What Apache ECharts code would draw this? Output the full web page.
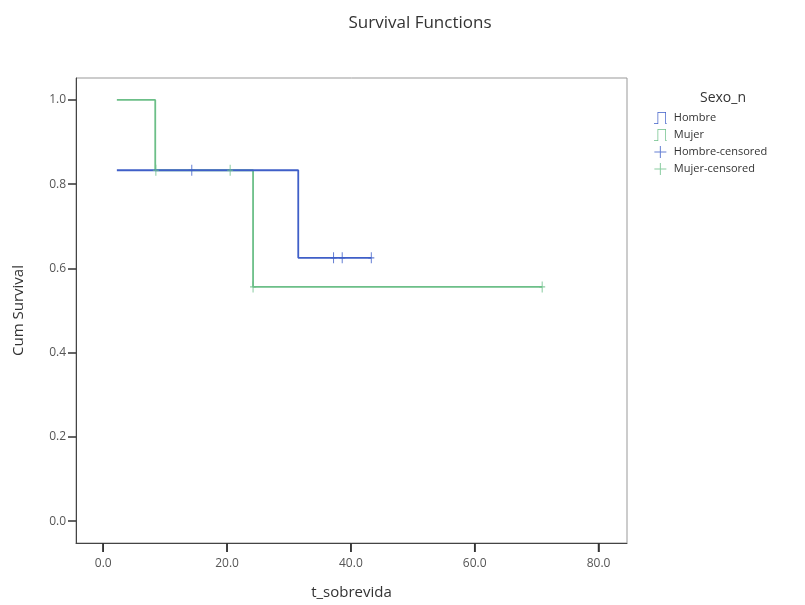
<!DOCTYPE html>
<html>
<head>
<meta charset="utf-8">
<script src="https://cdn.jsdelivr.net/npm/echarts@6/dist/echarts.min.js"></script>
<style>html,body{margin:0;padding:0;background:#fff}#c{width:805px;height:605px}</style>
</head>
<body>
<div id="c"></div>
<script>
// Data
var hombreSteps = [[2.2, 0.833], [31.5, 0.625], [43.3, 0.625]];
var mujerSteps = [[2.2, 1.0], [8.4, 0.833], [24.2, 0.556], [70.9, 0.556]];
var hombreCensored = [[14.3, 0.833], [37.2, 0.625], [38.6, 0.625], [43.3, 0.625]];
var mujerCensored = [[8.5, 0.833], [20.5, 0.833], [24.2, 0.556], [70.9, 0.556]];
var xTicks = [0, 20, 40, 60, 80];
var yTicks = [0, 0.2, 0.4, 0.6, 0.8, 1.0];
var seriesNames = ['Hombre', 'Mujer', 'Hombre-censored', 'Mujer-censored'];

var X_MIN = -4.4, X_MAX = 84.6, Y_MIN = -0.052, Y_MAX = 1.052;
var BLUE = '#3f5fc8', GREEN = '#6cbf88';
var plusPath = 'path://M5.5,0 L6.5,0 L6.5,5.5 L12,5.5 L12,6.5 L6.5,6.5 L6.5,12 L5.5,12 L5.5,6.5 L0,6.5 L0,5.5 L5.5,5.5 Z';
var stepPath = 'path://M0,18 L6,18 L6,2 L16,2 L16,18 L18,18 L18,17 L17,17 L17,1 L5,1 L5,17 L0,17 Z';
var censorSym = 'path://M0,4.5 L2.5,4.5 L2.5,0 L3.5,0 L3.5,4.5 L6,4.5 L6,5.5 L3.5,5.5 L3.5,10 L2.5,10 L2.5,5.5 L0,5.5 Z';

var chart = echarts.init(document.getElementById('c'), null, {renderer: 'canvas'});
chart.setOption({
  backgroundColor: '#fff',
  animation: false,
  title: [{
    text: 'Survival Functions', left: 415, top: 10, textAlign: 'center',
    textStyle: {fontFamily: 'Open Sans', fontSize: 17, fontWeight: 'normal', color: '#333'}
  }, {
    text: 'Sexo_n', left: 718, top: 86, textAlign: 'center',
    textStyle: {fontFamily: 'Open Sans', fontSize: 14, fontWeight: 'normal', color: '#333'}
  }],
  legend: {
    orient: 'vertical', left: 649, top: 107, itemGap: 5,
    itemWidth: 17, itemHeight: 12,
    textStyle: {fontFamily: 'Open Sans', fontSize: 11, color: '#333'},
    data: [
      {name: seriesNames[0], icon: stepPath, itemStyle: {color: BLUE}},
      {name: seriesNames[1], icon: stepPath, itemStyle: {color: GREEN}},
      {name: seriesNames[2], icon: plusPath, itemStyle: {color: BLUE}},
      {name: seriesNames[3], icon: plusPath, itemStyle: {color: GREEN}}
    ]
  },
  grid: {left: 76, top: 78, width: 551, height: 465, show: true, borderColor: '#999', borderWidth: 1,
    outerBoundsMode: 'none', containLabel: false},
  xAxis: {
    type: 'value', min: X_MIN, max: X_MAX,
    name: 't_sobrevida', nameLocation: 'middle', nameGap: 42,
    nameTextStyle: {fontFamily: 'Open Sans', fontSize: 15, color: '#333'},
    axisLine: {show: true, onZero: false, lineStyle: {color: '#444', width: 1}},
    axisTick: {show: true, length: 9, customValues: xTicks, lineStyle: {color: '#333', width: 1.5}},
    axisLabel: {customValues: xTicks, formatter: function (v) { return v.toFixed(1); },
      fontFamily: 'Open Sans', fontSize: 12, color: '#555', margin: 15},
    splitLine: {show: false}
  },
  yAxis: {
    type: 'value', min: Y_MIN, max: Y_MAX,
    name: 'Cum Survival', nameLocation: 'middle', nameGap: 50,
    nameTextStyle: {fontFamily: 'Open Sans', fontSize: 15, color: '#333'},
    axisLine: {show: true, onZero: false, lineStyle: {color: '#444', width: 1}},
    axisTick: {show: true, length: 8, customValues: yTicks, lineStyle: {color: '#333', width: 1.5}},
    axisLabel: {customValues: yTicks, formatter: function (v) { return v.toFixed(1); },
      fontFamily: 'Open Sans', fontSize: 12, color: '#555', margin: 10},
    splitLine: {show: false}
  },
  series: [
    {name: seriesNames[0], type: 'line', step: 'end', data: hombreSteps, showSymbol: false, symbol: 'none',
      lineStyle: {color: BLUE, width: 1.8}, itemStyle: {color: BLUE}, z: 3},
    {name: seriesNames[1], type: 'line', step: 'end', data: mujerSteps, showSymbol: false, symbol: 'none',
      lineStyle: {color: GREEN, width: 1.8}, itemStyle: {color: GREEN}, z: 2},
    {name: seriesNames[2], type: 'scatter', data: hombreCensored, symbol: censorSym, symbolSize: [6, 11],
      itemStyle: {color: BLUE}, z: 5},
    {name: seriesNames[3], type: 'scatter', data: mujerCensored, symbol: censorSym, symbolSize: [6, 11],
      itemStyle: {color: GREEN}, z: 4},
    {name: 'xTickMarks', type: 'custom', silent: true, clip: false, z: 6,
      data: xTicks.map(function (v) { return [v, Y_MIN]; }),
      encode: {x: 0, y: 1},
      renderItem: function (params, api) {
        var p = api.coord([api.value(0), api.value(1)]);
        return {type: 'line', shape: {x1: p[0], y1: p[1], x2: p[0], y2: p[1] + 9},
          style: {stroke: '#333', lineWidth: 1.5}};
      }}
  ]
});
</script>
</body>
</html>
